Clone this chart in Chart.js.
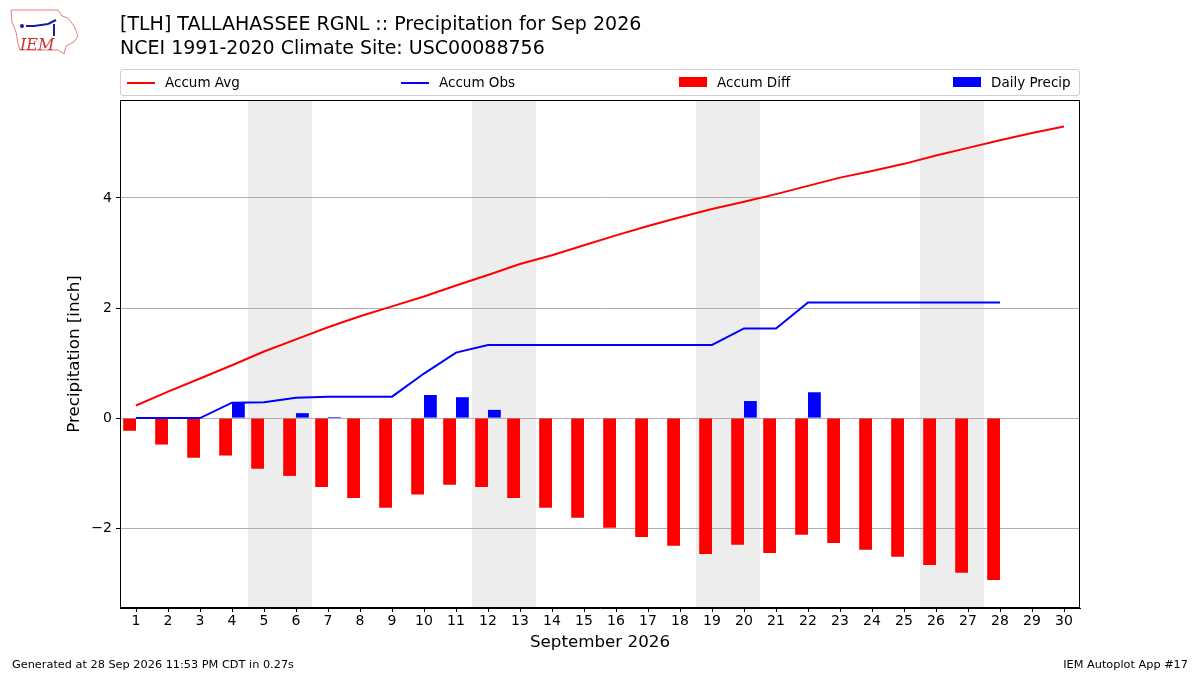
<!DOCTYPE html>
<html>
<head>
<meta charset="utf-8">
<script src="https://cdn.jsdelivr.net/npm/chart.js@4.4.1/dist/chart.umd.min.js"></script>
<style>
  body { margin: 0; background: #fff; font-family: "DejaVu Sans", sans-serif; }
  #wrap { position: relative; width: 1200px; height: 675px; }
  #myChart { position: absolute; left: 0; top: 0; }
  .txt { position: absolute; color: #000; white-space: nowrap; }
  #legend { position: absolute; left: 120px; top: 69px; width: 958px; height: 25px;
            border: 1px solid #d0d0d0; border-radius: 3px; background: #fff; }
  .item { position: absolute; top: 0; height: 25px; font-size: 13.5px; line-height: 25px; white-space: nowrap; }
  .item span.h { position: absolute; top: 12px; width: 28px; height: 2px; }
  .item span.p { position: absolute; top: 7px; width: 28px; height: 10px; }
  .item span.t { position: absolute; left: 38px; white-space: nowrap; }
</style>
</head>
<body>
<div id="wrap">
  <canvas id="myChart" width="1200" height="675"></canvas>
  <svg class="txt" style="left:8px;top:6px" width="72" height="52" viewBox="0 0 72 52">
    <path d="M3 4 L50 4 L54 10 L60 12 L66 20 L70 30 L66 36 L58 40 L56 48 L50 44 L12 44 L10 38 L8 26 L4 16 Z"
          fill="none" stroke="#e08080" stroke-width="1"/>
    <path d="M18 20 L26 20 L40 18 M40 18 L48 14 M46 18 L46 30" fill="none" stroke="#1a1aa0" stroke-width="2"/>
    <circle cx="14" cy="20" r="2" fill="#1a1aa0"/>
    <text x="12" y="44" font-family="DejaVu Serif, serif" font-style="italic" font-size="16" fill="#d03030">IEM</text>
  </svg>
  <div class="txt" style="left:120px;top:12px;font-size:19px;">[TLH] TALLAHASSEE RGNL :: Precipitation for Sep 2026</div>
  <div class="txt" style="left:120px;top:36px;font-size:19px;">NCEI 1991-2020 Climate Site: USC00088756</div>
  <div id="legend"></div>
  <div class="txt" style="left:12px;top:658px;font-size:11.3px;">Generated at 28 Sep 2026 11:53 PM CDT in 0.27s</div>
  <div class="txt" style="right:12px;top:658px;font-size:11.3px;">IEM Autoplot App #17</div>
</div>
<script>
// day of month
const days = [];
for (let d = 1; d <= 30; d++) days.push(String(d));

// inches
const accumAvg = [0.23, 0.48, 0.72, 0.96, 1.21, 1.43, 1.65, 1.85, 2.03, 2.21,
                  2.41, 2.60, 2.80, 2.96, 3.14, 3.32, 3.49, 3.65, 3.80, 3.93,
                  4.07, 4.22, 4.37, 4.49, 4.62, 4.77, 4.91, 5.05, 5.18, 5.30];
const accumObs = [0.00, 0.00, 0.00, 0.28, 0.29, 0.37, 0.39, 0.39, 0.39, 0.81,
                  1.19, 1.33, 1.33, 1.33, 1.33, 1.33, 1.33, 1.33, 1.33, 1.63,
                  1.63, 2.10, 2.10, 2.10, 2.10, 2.10, 2.10, 2.10, null, null];
const accumDiff = [-0.23, -0.48, -0.72, -0.68, -0.92, -1.05, -1.25, -1.45, -1.63, -1.39,
                   -1.21, -1.25, -1.45, -1.63, -1.81, -1.99, -2.16, -2.32, -2.47, -2.30,
                   -2.45, -2.12, -2.27, -2.39, -2.52, -2.67, -2.81, -2.94, null, null];
const dailyPrecip = [0, 0, 0, 0.28, 0, 0.09, 0.02, 0, 0, 0.42,
                     0.38, 0.15, 0, 0, 0, 0, 0, 0, 0, 0.31,
                     0, 0.47, 0, 0, 0, 0, 0, 0, null, null];
// first day of each weekend
const weekendStart = [5, 12, 19, 26];

const names = ["Accum Avg", "Accum Obs", "Accum Diff", "Daily Precip"];
const colors = ["#ff0000", "#0000ff", "#ff0000", "#0000ff"];
const legendX = [6, 280, 558, 832];

// legend like matplotlib's expanded box
var lg = document.getElementById("legend");
for (let i = 0; i < names.length; i++) {
  var kind = i < 2 ? "h" : "p";
  lg.innerHTML += "<div class='item' style='left:" + legendX[i] + "px'><span class='" + kind +
    "' style='background:" + colors[i] + "'></span><span class='t'>" + names[i] + "</span></div>";
}

const weekendBands = {
  id: "weekendBands",
  beforeDraw(chart) {
    const ctx = chart.ctx, a = chart.chartArea, x = chart.scales.x;
    ctx.save();
    ctx.fillStyle = "#ededed";
    weekendStart.forEach(function (d) {
      var x1 = x.getPixelForValue(d - 1.5), x2 = x.getPixelForValue(d + 0.5);
      ctx.fillRect(x1, a.top, x2 - x1, a.bottom - a.top);
    });
    ctx.restore();
  }
};

const frame = {
  id: "frame",
  afterDraw(chart) {
    const ctx = chart.ctx, a = chart.chartArea;
    ctx.save();
    ctx.strokeStyle = "#000";
    ctx.lineWidth = 1;
    ctx.strokeRect(a.left + 0.5, a.top + 0.5, a.right - a.left - 1, a.bottom - a.top - 1);
    ctx.restore();
  }
};

Chart.defaults.font.family = "'DejaVu Sans', sans-serif";
Chart.defaults.color = "#000";

var chart = new Chart(document.getElementById("myChart"), {
  data: {
    labels: days,
    datasets: [
      { type: "line", label: names[0], data: accumAvg, borderColor: colors[0], borderWidth: 2,
        pointRadius: 0, tension: 0, order: 1 },
      { type: "line", label: names[1], data: accumObs, borderColor: colors[1], borderWidth: 2,
        pointRadius: 0, tension: 0, order: 2, spanGaps: false },
      { type: "bar", label: names[2], data: accumDiff, backgroundColor: colors[2],
        categoryPercentage: 0.8, barPercentage: 1.0, order: 3 },
      { type: "bar", label: names[3], data: dailyPrecip, backgroundColor: colors[3],
        categoryPercentage: 0.8, barPercentage: 1.0, order: 4 }
    ]
  },
  options: {
    responsive: false,
    animation: false,
    layout: { padding: { top: 100, right: 120, bottom: 22, left: 65 } },
    plugins: { legend: { display: false }, tooltip: { enabled: false } },
    scales: {
      x: {
        type: "category",
        offset: true,
        grid: { offset: false, drawOnChartArea: false, drawTicks: true, tickLength: 4, tickColor: "#000" },
        border: { color: "#000" },
        ticks: { autoSkip: false, maxRotation: 0, font: { size: 14 }, padding: 1 },
        title: { display: true, text: "September 2026", font: { size: 16.7 }, padding: { top: 0, bottom: 0 } },
        afterFit(s) { s.height = 45; }
      },
      y: {
        min: -3.45,
        max: 5.78,
        grid: { color: "#b0b0b0", lineWidth: 1, drawTicks: true, tickLength: 4, tickColor: "#000" },
        border: { color: "#000" },
        ticks: { stepSize: 2, includeBounds: false, font: { size: 14 }, padding: 4,
                 callback: function (v) { return v < 0 ? "\u2212" + Math.abs(v) : String(v); } },
        title: { display: true, text: "Precipitation [inch]", font: { size: 16.7 }, padding: { top: 0, bottom: 0 } },
        afterFit(s) { s.width = 55; }
      }
    }
  },
  plugins: [weekendBands, frame]
});
</script>
</body>
</html>
